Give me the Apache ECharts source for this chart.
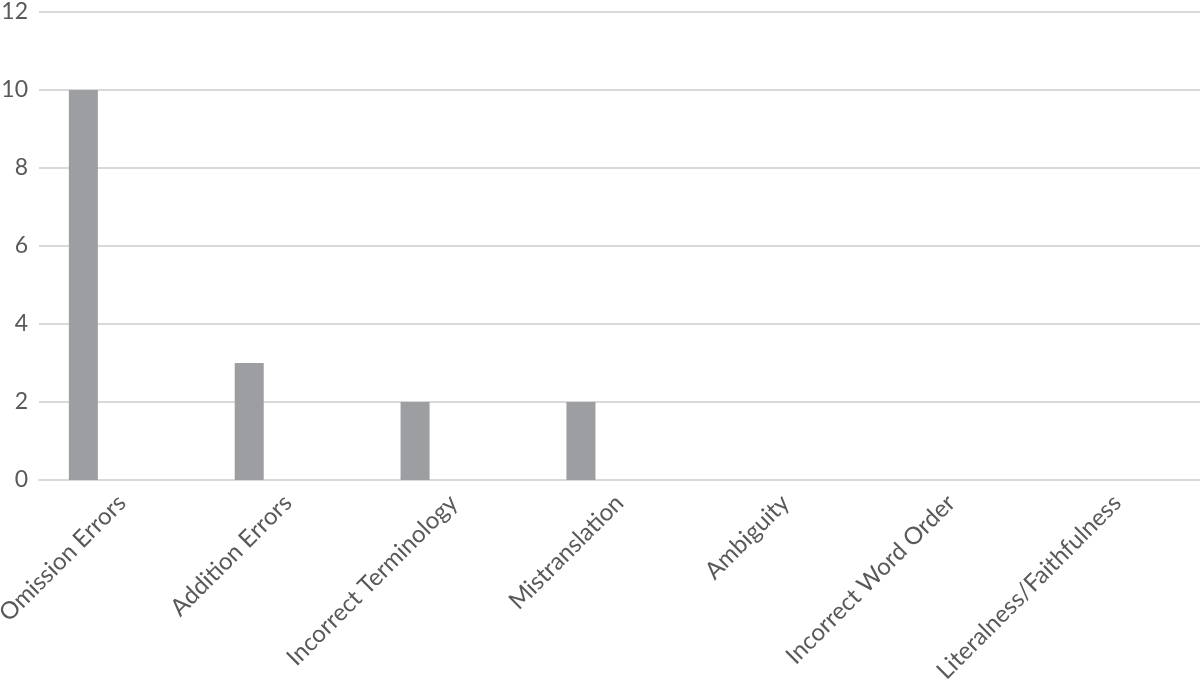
<!DOCTYPE html>
<html>
<head>
<meta charset="utf-8">
<script src="https://cdn.jsdelivr.net/npm/echarts@6/dist/echarts.min.js"></script>
<style>
  html, body { margin: 0; padding: 0; background: #fff; }
  #chart { width: 1200px; height: 682px; }
</style>
</head>
<body>
<div id="chart"></div>
<script>
var categories = ['Omission Errors', 'Addition Errors', 'Incorrect Terminology', 'Mistranslation',
    'Ambiguity', 'Incorrect Word Order', 'Literalness/Faithfulness'];
var errorCounts = [10, 3, 2, 2, 0, 0, 0];
// empty second slot, the bars sit left of the category centre like in the original
var emptySlot = ['-', '-', '-', '-', '-', '-', '-'];
var yTicks = [0, 2, 4, 6, 8, 10, 12];

var chart = echarts.init(document.getElementById('chart'));
var labelColor = '#595959';
var lineColor = '#d9d9d9';

chart.setOption({
    animation: false,
    textStyle: {fontFamily: 'Lato'},
    grid: {left: 39, right: 0, top: 12, bottom: 202, containLabel: false, outerBoundsMode: 'none'},
    xAxis: {
        type: 'category',
        data: categories,
        axisLine: {lineStyle: {color: lineColor, width: 2}},
        axisTick: {show: false},
        axisLabel: {rotate: 45, fontSize: 24, color: labelColor, margin: 19, interval: 0}
    },
    yAxis: {
        type: 'value',
        min: yTicks[0],
        max: yTicks[yTicks.length - 1],
        interval: 2,
        axisLine: {show: false},
        axisTick: {show: false},
        axisLabel: {fontSize: 23, color: labelColor, margin: 11},
        splitLine: {lineStyle: {color: lineColor, width: 2}}
    },
    series: [{
        type: 'bar',
        data: errorCounts.map(function (v) { return v === 0 ? '-' : v; }),
        barWidth: 29,
        barGap: '166%',
        itemStyle: {color: '#9d9ea2'}
    }, {
        type: 'bar',
        data: emptySlot,
        barWidth: 29
    }]
});
</script>
</body>
</html>
